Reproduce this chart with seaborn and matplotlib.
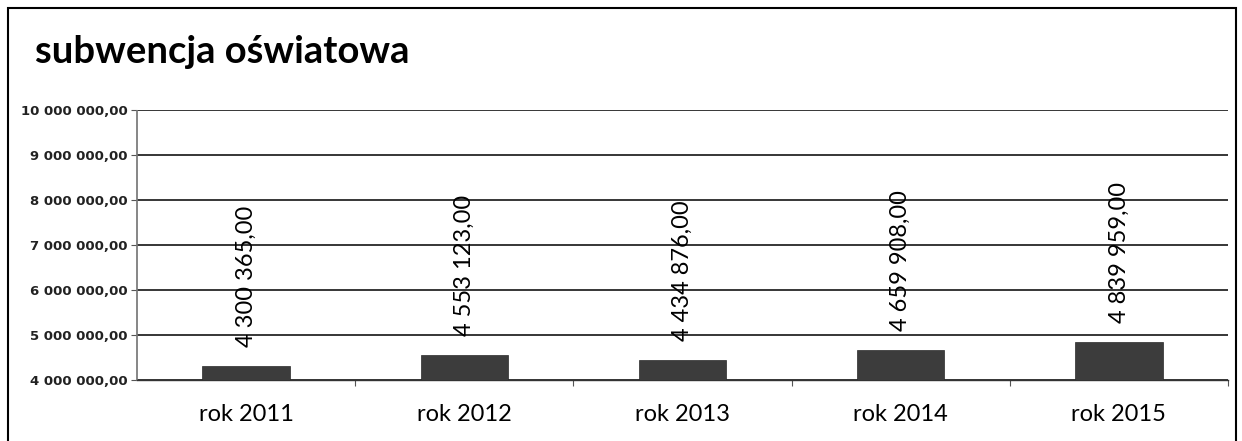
import matplotlib
matplotlib.use("Agg")
import matplotlib.pyplot as plt
import seaborn as sns
import pandas as pd
from matplotlib.patches import Rectangle
from matplotlib.ticker import FixedLocator

categories = ["rok 2011", "rok 2012", "rok 2013", "rok 2014", "rok 2015"]
values = [4300365.00, 4553123.00, 4434876.00, 4659908.00, 4839959.00]
yticks = [4000000, 5000000, 6000000, 7000000, 8000000, 9000000, 10000000]
title = "subwencja oświatowa"

def fmt(v):
    s = f"{v:,.2f}"
    s = s.replace(",", " ").replace(".", ",")
    return s

sns.set_theme(style="white")
plt.rcParams['font.family'] = ['Lato', 'DejaVu Sans']

df = pd.DataFrame({"cat": categories, "val": values})

fig = plt.figure(figsize=(12.42, 4.41), dpi=100)
ax = fig.add_axes([137/1242, 1 - 380/441, (1228-137)/1242, (380-110)/441])

sns.barplot(data=df, x="cat", y="val", color="#3c3c3c", width=0.4, ax=ax,
            saturation=1, edgecolor="#2a2a2a", linewidth=0.5, zorder=3)

ax.set_ylim(4000000, 10000000)
ax.set_xlim(-0.5, len(categories) - 0.5)
ax.set_yticks(yticks)
ax.set_yticklabels([fmt(t) for t in yticks], fontsize=9.5, fontweight="bold",
                   color="#222222", family=["DejaVu Sans"])
ax.yaxis.grid(True, color="black", linewidth=1.1, zorder=0)
ax.xaxis.grid(False)
ax.set_xlabel("")
ax.set_ylabel("")
ax.tick_params(axis="x", labelsize=17, colors="black", length=0, pad=17)
ax.tick_params(axis="y", length=4, width=0.8, color="#555555", left=True, pad=3)
ax.xaxis.set_minor_locator(FixedLocator([i + 0.5 for i in range(len(categories))]))
ax.tick_params(axis="x", which="minor", length=4, width=0.8, color="#555555", bottom=True)

for s in ["top", "right"]:
    ax.spines[s].set_visible(False)
ax.spines["left"].set_color("#777777")
ax.spines["left"].set_linestyle((0, (1, 1)))
ax.spines["bottom"].set_color("#333333")
ax.spines["bottom"].set_linewidth(1.0)

for i, v in enumerate(values):
    ax.annotate(fmt(v), (i, v), xytext=(0, 14), textcoords="offset points",
                rotation=90, ha="center", va="bottom", fontsize=17, color="black")

fig.text(35/1242, 1 - 52/441, title, fontsize=27.5, fontweight="bold",
         ha="left", va="center", color="black")

fig.patches.append(Rectangle((8/1242, -0.05), (1236-8)/1242, 1.05 - 8/441,
                             transform=fig.transFigure, fill=False,
                             edgecolor="black", linewidth=1.5))

fig.savefig("out.png", dpi=100)
